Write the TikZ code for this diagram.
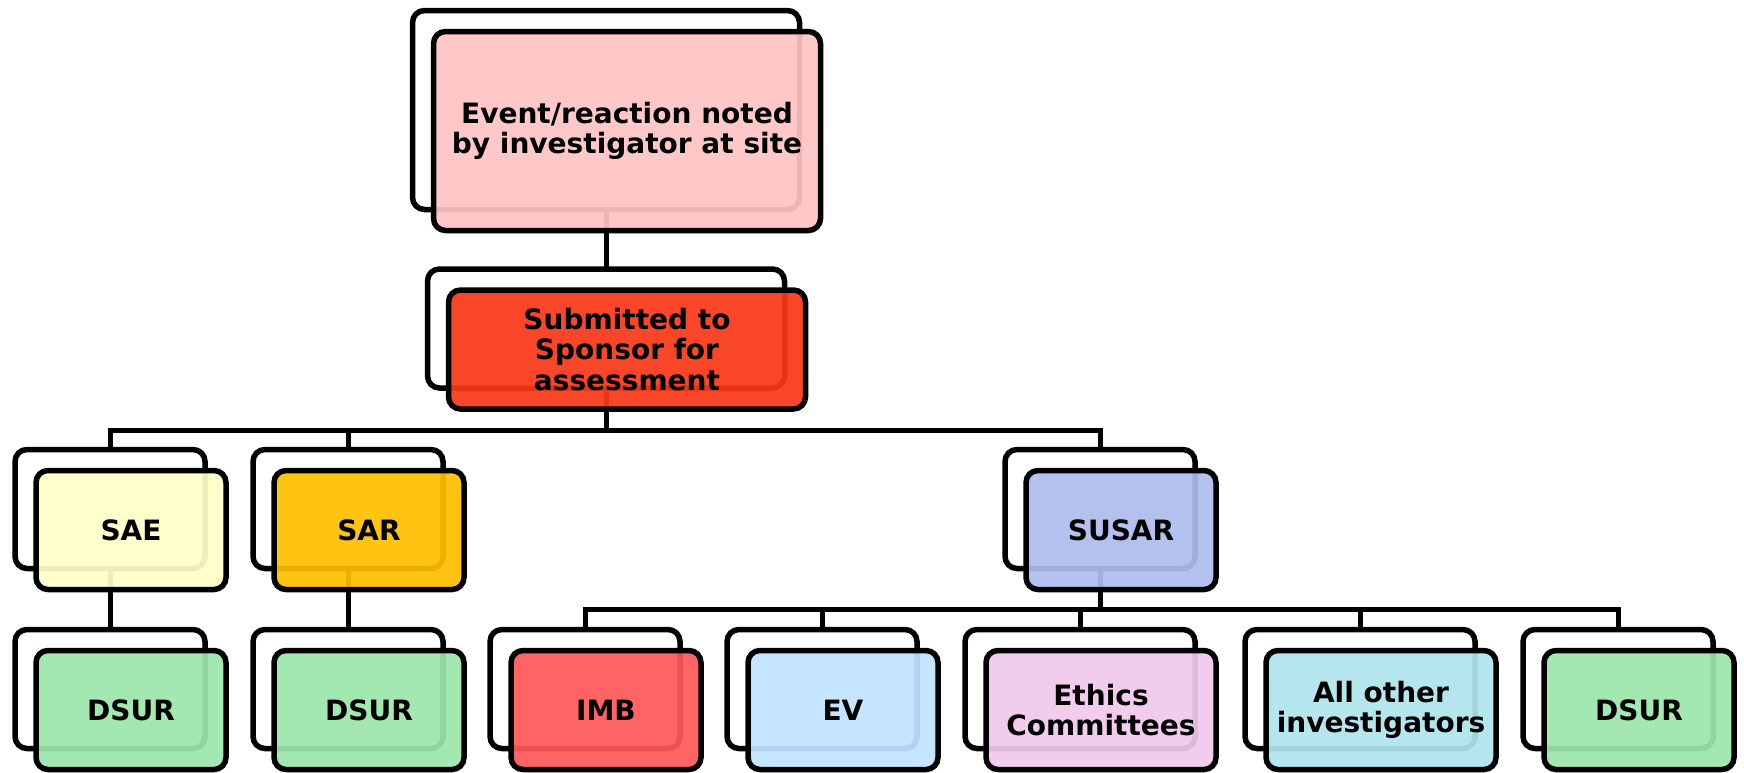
\documentclass[tikz,border=0pt]{standalone}
\usepackage{fontspec}
\setmainfont{DejaVu Sans}
\usetikzlibrary{backgrounds}
\definecolor{eventpink}{RGB}{255,196,196}
\definecolor{sponsorred}{RGB}{250,56,24}
\definecolor{saeyellow}{RGB}{255,255,200}
\definecolor{sargold}{RGB}{255,190,0}
\definecolor{susarblue}{RGB}{172,188,236}
\definecolor{dsurgreen}{RGB}{156,230,170}
\definecolor{imbred}{RGB}{255,88,88}
\definecolor{evblue}{RGB}{192,226,255}
\definecolor{ethicspink}{RGB}{240,200,236}
\definecolor{invcyan}{RGB}{176,228,236}
% back outline + coloured card shifted down right
\newcommand{\stackbox}[7]{%
	\node[backcard, minimum width=#4, minimum height=#5] (#1-b) at (#2,#3) {};
	\node[frontcard, minimum width=#4, minimum height=#5, fill=#6]
		(#1) at ([shift={(21,21)}]#1-b.center) {#7};}

\begin{document}
\begin{tikzpicture}[x=1pt, y=-1pt,
		card/.style={rectangle, rounded corners=12pt, draw=black, line width=5.5pt,
			inner sep=0pt, outer sep=0pt},
		backcard/.style={card},
		frontcard/.style={card, fill opacity=0.93, text opacity=1, align=center,
			font=\fontsize{28}{30.5}\selectfont\bfseries},
		conn/.style={line width=5pt}]
			\useasboundingbox (0,0) rectangle (1744,772);
			\stackbox{event}{606}{110}{387}{199}{eventpink}{Event/reaction noted\\by investigator at site}
			\stackbox{sponsor}{606}{328.5}{357}{119}{sponsorred}{Submitted to\\Sponsor for\\assessment}
			\stackbox{sae}{110}{509}{190}{119}{saeyellow}{SAE}
			\stackbox{sar}{348}{509}{190}{119}{sargold}{SAR}
			\stackbox{susar}{1100}{509}{190}{119}{susarblue}{SUSAR}
			\stackbox{dsura}{110}{689}{190}{119}{dsurgreen}{DSUR}
			\stackbox{dsurb}{348}{689}{190}{119}{dsurgreen}{DSUR}
			\foreach \n/\x/\w/\c/\t in {imb/585/190/imbred/IMB, ev/822/190/evblue/EV,
					ethics/1080/230/ethicspink/{Ethics\\Committees},
					inv/1360/230/invcyan/{All other\\investigators},
					dsurc/1618/190/dsurgreen/DSUR}
				\stackbox{\n}{\x}{689}{\w}{119}{\c}{\t}
			\coordinate (bar-sponsor) at (0,430);
			\coordinate (bar-susar) at (0,609);
			\begin{scope}[on background layer]
				\draw[conn] (event-b.south) -- (sponsor-b.north);
				\foreach \k in {sae,sar,susar}
					\draw[conn] (sponsor-b.south) |- (\k-b.north |- bar-sponsor) -- (\k-b.north);
				\draw[conn] (sae-b.south) -- (dsura-b.north);
				\draw[conn] (sar-b.south) -- (dsurb-b.north);
				\foreach \k in {imb,ev,ethics,inv,dsurc}
					\draw[conn] (susar-b.south) |- (\k-b.north |- bar-susar) -- (\k-b.north);
			\end{scope}
		\end{tikzpicture}
\end{document}
